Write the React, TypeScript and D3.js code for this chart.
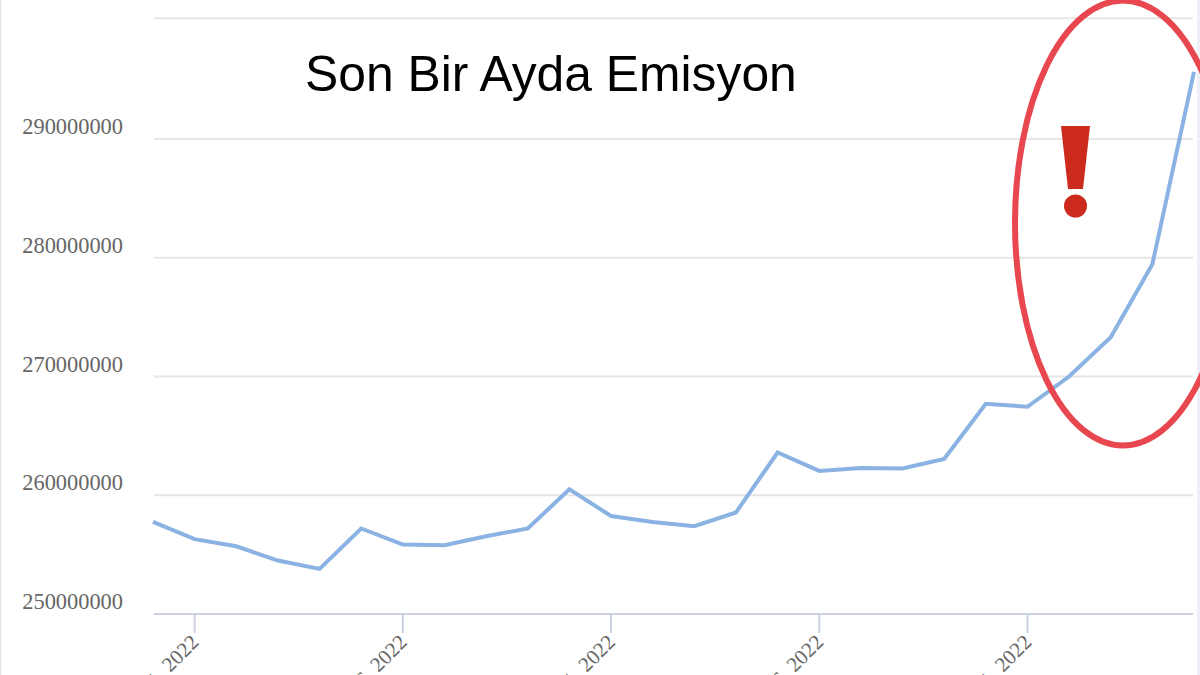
import React from "react";
import * as d3 from "d3";

const pointIndex = d3.range(26);
const emissionMillions = [257.75, 256.3, 255.7, 254.5, 253.8, 257.2, 255.85, 255.8, 256.55, 257.2, 260.5, 258.25, 257.75, 257.4, 258.55, 263.6, 262.05, 262.3, 262.25, 263.05, 267.7, 267.45, 270, 273.3, 279.45, 295.65];
const yTicks = [250000000, 260000000, 270000000, 280000000, 290000000];
const gridValues = [260000000, 270000000, 280000000, 290000000, 300170000];
const xTickIndex = [1, 6, 11, 16, 21];
const xTickLabels = ["Mar 1, 2022", "Mar 6, 2022", "Mar 11, 2022", "Mar 16, 2022", "Mar 21, 2022"];

const x = d3.scaleLinear().domain([0, 25]).range([153, 1194]);
const y = d3.scaleLinear().domain([250000000, 290000000]).range([614, 139]);
const line = d3.line<number>().x((i) => x(i)).y((i) => y(emissionMillions[i] * 1e6));

export default function App() {
  return (
    <svg width={1200} height={675} viewBox="0 0 1200 675"
      style={{ position: "fixed", left: 0, top: 0, display: "block", background: "#fff" }}>
      <line x1={0.5} x2={0.5} y1={0} y2={675} stroke="#e4e6ee" strokeWidth={1.5} />
      <line x1={1198.5} x2={1198.5} y1={0} y2={675} stroke="#eef0f8" strokeWidth={3} />
      {gridValues.map((v) => (
        <line key={v} x1={154} x2={1193} y1={y(v)} y2={y(v)} stroke="#e6e6e6" strokeWidth={2} />
      ))}
      <line x1={154} x2={1193} y1={614} y2={614} stroke="#ccd2e4" strokeWidth={2} />
      {xTickIndex.map((i, k) => (
        <g key={i}>
          <line x1={x(i)} x2={x(i)} y1={614} y2={633} stroke="#ccd2e4" strokeWidth={2} />
          <text transform={`translate(${x(i) + 2},${640}) rotate(-45)`} textAnchor="end"
            dominantBaseline="middle" fontFamily="'Liberation Serif'" fontSize={21} fill="#666">
            {xTickLabels[k]}
          </text>
        </g>
      ))}
      {yTicks.map((v) => (
        <text key={v} x={123} y={y(v) - 5} textAnchor="end" fontFamily="'Liberation Serif'" fontSize={22.4} fill="#666">
          {v}
        </text>
      ))}
      <path d={line(pointIndex) ?? ""} fill="none" stroke="#8ab2e2" strokeWidth={4} strokeLinejoin="miter" />
      <text x={305} y={91} fontFamily="'Liberation Sans'" fontSize={49.8} fill="#000">Son Bir Ayda Emisyon</text>
      <ellipse cx={1123} cy={223} rx={108} ry={222.5} fill="none" stroke="#e8474f" strokeWidth={6} />
      <polygon points="1061,126 1090,126 1083,189 1068,189" fill="#cb2a1c" />
      <circle cx={1075.5} cy={206} r={11.5} fill="#cb2a1c" />
    </svg>
  );
}
